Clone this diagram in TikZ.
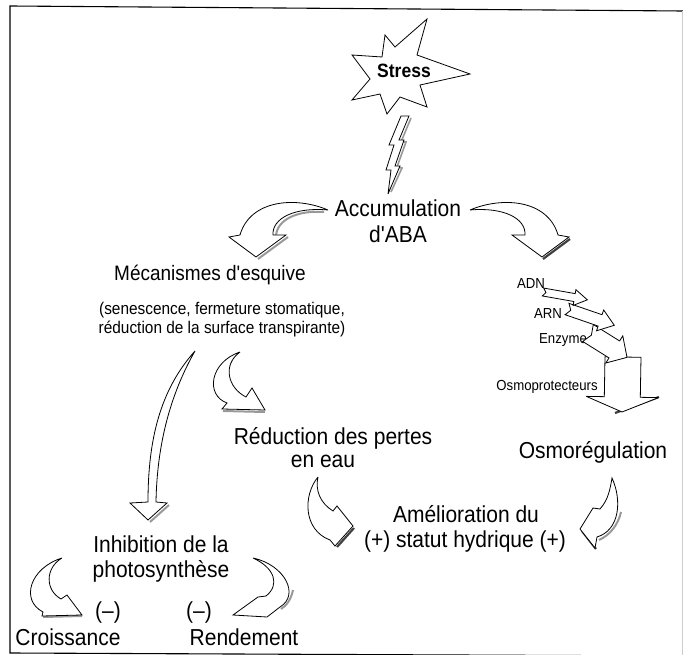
\documentclass[tikz,border=0pt]{standalone}
\usepackage{graphicx}
\usepackage{fontspec}
\setmainfont{Liberation Sans}
\newcommand{\vs}[1]{\scalebox{1}[1.1]{#1}}
\newcommand{\blkarrow}[8]{% #1 style, #2 start, #3 angle, #4 length, #5 shaft hw, #6 head hw, #7 head len, #8 notch
  \draw[#1,shift={#2},rotate=#3] (0,-#5) -- ({#4-#7},-#5) -- ({#4-#7},-#6) -- (#4,0) -- ({#4-#7},#6) -- ({#4-#7},#5) -- (0,#5) -- (#8,0) -- cycle;}
\begin{document}
\begin{tikzpicture}[x=1pt,y=-1pt,
  barrow/.style={draw=black,fill=white,line width=0.8pt,line join=miter,miter limit=4},
  shd/.style={draw=black!40,line width=2pt},
  shdk/.style={draw=black!75,line width=2.2pt},
  lbl/.style={font=\fontsize{21}{25}\selectfont,inner sep=0pt,anchor=base},
  sml/.style={font=\fontsize{15.4}{19}\selectfont,inner sep=0pt,anchor=base},
  tny/.style={font=\fontsize{13.2}{16}\selectfont,inner sep=0pt,anchor=base}]
\useasboundingbox (0,0) rectangle (683,655);
\fill[white] (0,0) rectangle (683,655);
% frame
\draw[line width=1.1pt] (683,11) -- (10,6) -- (10,653) -- (683,656);
\draw[black!20,line width=0.5pt] (682,11) -- (682,655);

% Stress star
\draw[barrow] (385,35) -- (395,47) -- (427,19) -- (417,55) -- (470,74) -- (420,85) -- (427,107)
  -- (400,97) -- (387,114) -- (380,94) -- (352,100) -- (370,79) -- (352,55) -- (382,57) -- cycle;
\node[font=\bfseries\fontsize{17.5}{20}\selectfont,inner sep=0pt,anchor=base] (stress) at (404,78) {\vs{Stress}};

% lightning bolt
\draw[shd,line width=1.6pt] (411,118) -- (401,142) -- (406,142) -- (397,167) -- (402,168) -- (391,192);
\draw[barrow] (401,116) -- (409,116) -- (399,140) -- (404,140) -- (395,166) -- (400,166) -- (388,194)
  -- (391,170) -- (386,170) -- (394,145) -- (389,145) -- cycle;

% Accumulation
\node[lbl] (acc1) at (398,217) {\vs{Accumulation}};
\node[lbl] (acc2) at (398,243) {\vs{d\textquotesingle ABA}};

% big left arrow
\draw[shd] (276,237) .. controls (276,220) and (297,210) .. (324,212);
\draw[shd] (258,259) -- (288,237);
\draw[barrow] (328,210) .. controls (295,196) and (250,200) .. (240,235) -- (229,237) -- (256,257)
  -- (286,235) -- (273,235) .. controls (272,218) and (295,207) .. (328,210) -- cycle;

% big right arrow
\draw[shdk] (543,259) -- (570,239);
\draw[barrow] (470,210) .. controls (503,196) and (548,200) .. (558,235) -- (569,237) -- (542,257)
  -- (512,235) -- (525,235) .. controls (526,218) and (503,207) .. (470,210) -- cycle;

% Mecanismes
\node[font=\fontsize{19}{23}\selectfont,inner sep=0pt,anchor=base] (mec) at (210,280) {\vs{Mécanismes d\textquotesingle esquive}};
\node[sml] (sen) at (222,314) {\vs{(senescence, fermeture stomatique,}};
\node[sml] (red) at (222,333) {\vs{réduction de la surface transpirante)}};

% cascade
\node[tny] (adn) at (531,288) {\vs{ADN}};
\node[tny] (arn) at (548,318) {\vs{ARN}};
\node[tny] (enz) at (563,343) {\vs{Enzyme}};
\node[tny] (osp) at (547,390) {\vs{Osmoprotecteurs}};
\draw[shdk] (615,413) -- (659,397);
\blkarrow{barrow}{(623,357)}{-91}{55}{18}{36}{15}{0}
\blkarrow{barrow}{(588,333)}{-32}{46}{10}{16}{15}{4}
\blkarrow{barrow}{(567,309)}{-19}{50}{6}{11}{15}{4}
\blkarrow{barrow}{(543,292)}{-10}{45}{4}{8}{13}{3}

% long arrow to Inhibition
\draw[shd] (150,522) -- (169,505);
\draw[barrow] (195,351) .. controls (160,390) and (148,440) .. (148,502) -- (130,503) -- (148,520)
  -- (167,503) -- (156,502) .. controls (157,445) and (170,395) .. (195,351) -- cycle;

% crescent Mecanismes -> Reduction
\draw[shd] (223,411) -- (265,412);
\draw[barrow] (240,352) .. controls (210,362) and (205,395) .. (227,403) -- (222,409) -- (265,410)
  -- (252,388) -- (246,397) .. controls (228,388) and (222,365) .. (240,352) -- cycle;

% Reduction
\node[lbl] (rdp1) at (333,444) {\vs{Réduction des pertes}};
\node[lbl] (rdp2) at (323,467) {\vs{en eau}};
\node[lbl] (osm) at (593,458) {\vs{Osmorégulation}};

% crescent Reduction -> Amelioration
\draw[shdk] (354,528) -- (337,547);
\draw[barrow] (318,477) .. controls (303,495) and (303,530) .. (330,540) -- (335,546) -- (353,526)
  -- (337,506) -- (333,511) .. controls (320,503) and (315,490) .. (318,477) -- cycle;

% crescent Osmoregulation -> Amelioration
\draw[shdk] (582,531) -- (596,549);
\draw[shd] (621,512) .. controls (618,525) and (610,535) .. (599,540);
\draw[barrow] (612,478) .. controls (622,500) and (620,530) .. (597,537) -- (595,548) -- (580,529)
  -- (593,508) -- (600,509) .. controls (608,500) and (610,490) .. (612,478) -- cycle;

\node[lbl] (ame1) at (466,522) {\vs{Amélioration du}};
\node[lbl] (ame2) at (465,547) {\vs{(+) statut hydrique (+)}};

% Inhibition
\node[lbl] (inh1) at (161,552) {\vs{Inhibition de la}};
\node[lbl] (inh2) at (161,577) {\vs{photosynthèse}};

% crescent -> Croissance
\draw[shd] (43,617) -- (82,616);
\draw[barrow] (62,558) .. controls (30,568) and (20,600) .. (43,612) -- (42,616) -- (82,615)
  -- (67,595) -- (61,599) .. controls (45,590) and (45,568) .. (62,558) -- cycle;

% crescent -> Rendement
\draw[shd] (293,590) .. controls (291,600) and (286,606) .. (281,609);
\draw[barrow] (253,558) .. controls (285,565) and (300,595) .. (280,607) -- (267,617) -- (233,615)
  -- (258,597) -- (266,596) .. controls (280,585) and (275,568) .. (253,558) -- cycle;

\node[lbl] (m1) at (108,618) {\vs{(--)}};
\node[lbl] (m2) at (199,618) {\vs{(--)}};
\node[lbl] (cro) at (68,645) {\vs{Croissance}};
\node[lbl] (ren) at (244,645) {\vs{Rendement}};
\end{tikzpicture}
\end{document}
